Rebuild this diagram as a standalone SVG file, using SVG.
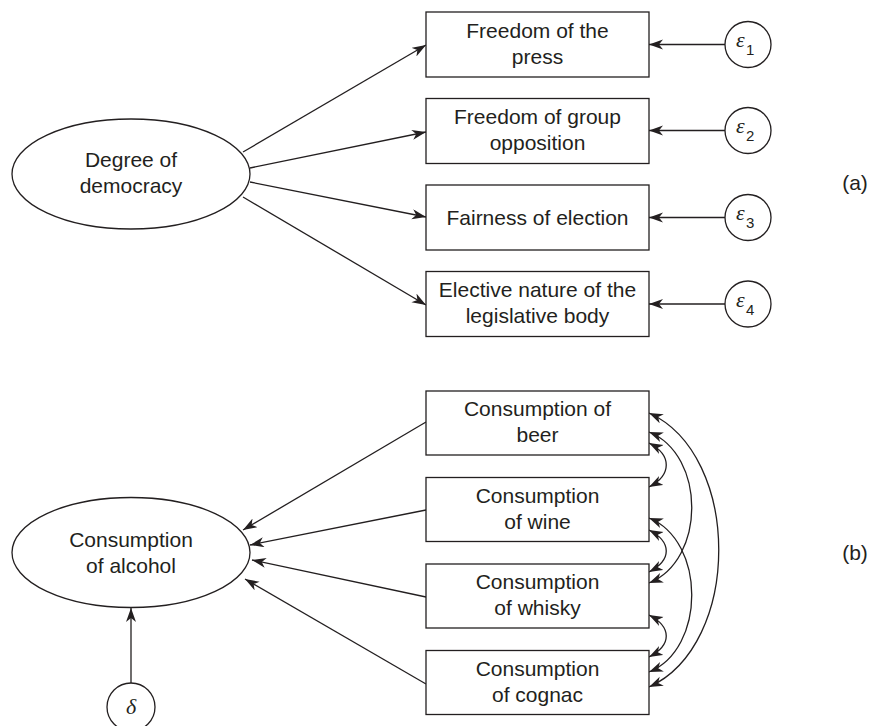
<svg xmlns="http://www.w3.org/2000/svg" width="870" height="726" viewBox="0 0 870 726">
<style>
.box{fill:#fff;stroke:#231f20;stroke-width:1.3}
.ell{fill:#fff;stroke:#231f20;stroke-width:1.3}
.t{font-family:"Liberation Sans",Arial,sans-serif;font-size:21px;fill:#231f20;text-anchor:middle}
.g{font-family:"Liberation Serif","Times New Roman",serif;font-style:italic;font-size:22px;fill:#231f20}
.sub{font-family:"Liberation Sans",Arial,sans-serif;font-size:15px;fill:#231f20}
.c{fill:none;stroke:#231f20;stroke-width:1.3}
.ar{marker-end:url(#ah)}
.dbl{marker-start:url(#ah);marker-end:url(#ah)}
</style>
<defs>
<marker id="ah" markerUnits="userSpaceOnUse" markerWidth="16" markerHeight="12" refX="14" refY="5" orient="auto-start-reverse">
<path d="M0,0 L14,5 L0,10 L4,5 z" fill="#231f20"/>
</marker>
</defs>
<rect width="870" height="726" fill="#fff"/>

<g id="connectors">
<line class="c ar" x1="243" y1="152" x2="426" y2="45"/>
<line class="c ar" x1="250" y1="168" x2="426" y2="132"/>
<line class="c ar" x1="250" y1="182" x2="426" y2="217"/>
<line class="c ar" x1="243" y1="197" x2="426" y2="305"/>
<line class="c ar" x1="725" y1="44.5" x2="649" y2="44.5"/>
<line class="c ar" x1="725" y1="130.5" x2="649" y2="130.5"/>
<line class="c ar" x1="725" y1="217.5" x2="649" y2="217.5"/>
<line class="c ar" x1="725" y1="304" x2="649" y2="304"/>
<line class="c ar" x1="426" y1="422" x2="243" y2="530"/>
<line class="c ar" x1="426" y1="510" x2="250" y2="545"/>
<line class="c ar" x1="426" y1="597" x2="252" y2="560"/>
<line class="c ar" x1="426" y1="684" x2="245" y2="579"/>
<line class="c ar" x1="131" y1="683" x2="131" y2="608"/>
<path class="c dbl" d="M649,443 C672,455 672,475 649,487"/>
<path class="c dbl" d="M649,530 C672,542 672,560 649,572"/>
<path class="c dbl" d="M649,615 C672,627 672,645 649,657"/>
<path class="c dbl" d="M649,432 C706,455 706,560 649,583"/>
<path class="c dbl" d="M649,518 C706,541 706,649 649,672"/>
<path class="c dbl" d="M649,413 C742,455 742,645 649,687"/>
</g>

<g id="degree">
<ellipse class="ell" cx="131" cy="174" rx="119" ry="55"/>
<text class="t" x="131" y="167">Degree of</text>
<text class="t" x="131" y="193">democracy</text>
</g>
<g id="press">
<rect class="box" x="426" y="12" width="223" height="65"/>
<text class="t" x="537.5" y="37.5">Freedom of the</text>
<text class="t" x="537.5" y="63.5">press</text>
</g>
<g id="group">
<rect class="box" x="426" y="98.5" width="223" height="65"/>
<text class="t" x="537.5" y="124">Freedom of group</text>
<text class="t" x="537.5" y="150">opposition</text>
</g>
<g id="fairness">
<rect class="box" x="426" y="185" width="223" height="65"/>
<text class="t" x="537.5" y="225">Fairness of election</text>
</g>
<g id="elective">
<rect class="box" x="426" y="271.5" width="223" height="65"/>
<text class="t" x="537.5" y="297">Elective nature of the</text>
<text class="t" x="537.5" y="323">legislative body</text>
</g>
<g id="e1"><circle class="ell" cx="748" cy="44.5" r="23"/><text class="g" x="736" y="47">ε</text><text class="sub" x="746" y="55">1</text></g>
<g id="e2"><circle class="ell" cx="748" cy="130.5" r="23"/><text class="g" x="736" y="133">ε</text><text class="sub" x="746" y="141">2</text></g>
<g id="e3"><circle class="ell" cx="748" cy="217.5" r="23"/><text class="g" x="736" y="220">ε</text><text class="sub" x="746" y="228">3</text></g>
<g id="e4"><circle class="ell" cx="748" cy="304" r="23"/><text class="g" x="736" y="306.5">ε</text><text class="sub" x="746" y="314.5">4</text></g>
<g id="label-a"><text class="t" x="855" y="190">(a)</text></g>

<g id="alcohol">
<ellipse class="ell" cx="131" cy="552.5" rx="119" ry="55"/>
<text class="t" x="131" y="546.5">Consumption</text>
<text class="t" x="131" y="572.5">of alcohol</text>
</g>
<g id="beer">
<rect class="box" x="426" y="391" width="223" height="64"/>
<text class="t" x="537.5" y="416">Consumption of</text>
<text class="t" x="537.5" y="442">beer</text>
</g>
<g id="wine">
<rect class="box" x="426" y="477.5" width="223" height="64"/>
<text class="t" x="537.5" y="502.5">Consumption</text>
<text class="t" x="537.5" y="528.5">of wine</text>
</g>
<g id="whisky">
<rect class="box" x="426" y="564" width="223" height="64"/>
<text class="t" x="537.5" y="589">Consumption</text>
<text class="t" x="537.5" y="615">of whisky</text>
</g>
<g id="cognac">
<rect class="box" x="426" y="650.5" width="223" height="64"/>
<text class="t" x="537.5" y="675.5">Consumption</text>
<text class="t" x="537.5" y="701.5">of cognac</text>
</g>
<g id="delta"><circle class="ell" cx="131" cy="707" r="24"/><text class="g" x="131" y="714" text-anchor="middle">δ</text></g>
<g id="label-b"><text class="t" x="855" y="560">(b)</text></g>
</svg>
